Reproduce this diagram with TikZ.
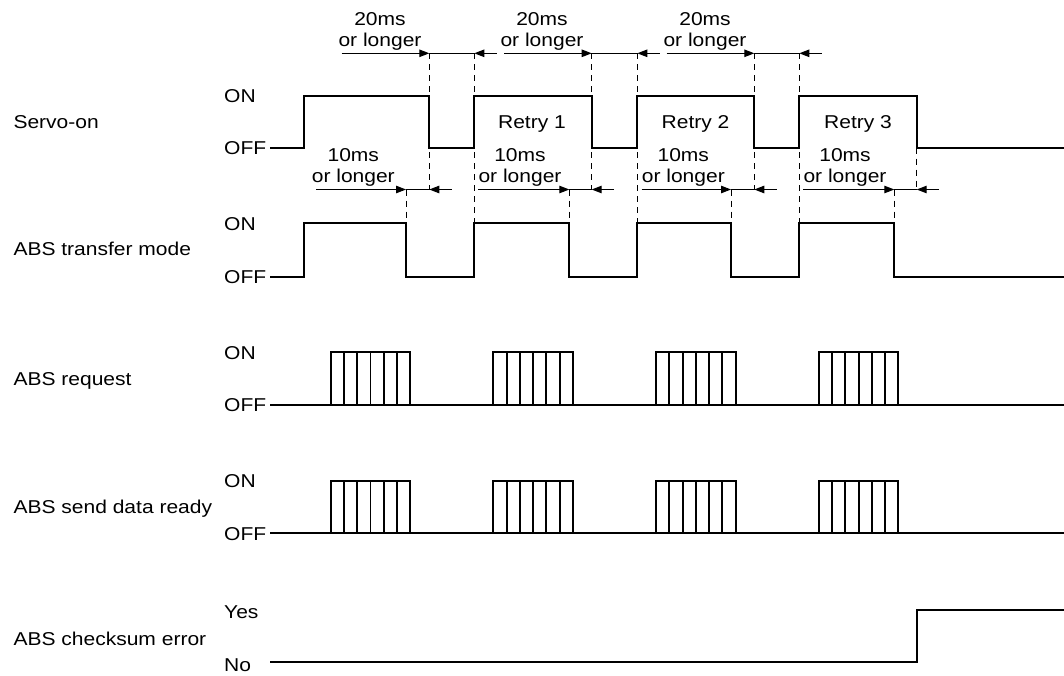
\documentclass[tikz,border=0pt]{standalone}
\usepackage{fontspec}
\setmainfont{Liberation Sans}[FakeStretch=1.13]
\usetikzlibrary{arrows.meta}
\tikzset{
  sig/.style={line width=1.9pt, line join=miter},
  pulse/.style={line width=1.9pt},
  dim/.style={line width=1pt},
  tipr/.style={-{Triangle[length=10pt,width=7.5pt]}},
  guide/.style={line width=1pt, dash pattern=on 6pt off 5pt},
  lbl/.style={font=\fontsize{18.6}{21}\selectfont, inner sep=0pt, anchor=base west},
  tlbl/.style={font=\fontsize{18.6}{21}\selectfont, inner sep=0pt, anchor=base},
}
\begin{document}
\begin{tikzpicture}[x=1pt,y=-1pt]
\useasboundingbox (0,0) rectangle (1064,675);

% signal names
\node[lbl] (servo) at (13.3,128.3) {Servo-on};
\node[lbl] (servoon) at (224,102.3) {ON};
\node[lbl] (servooff) at (224,154.3) {OFF};
\node[lbl] (trans) at (13.3,255) {ABS transfer mode};
\node[lbl] (transon) at (224,230) {ON};
\node[lbl] (transoff) at (224,283.3) {OFF};
\node[lbl] (req) at (13.3,385) {ABS request};
\node[lbl] (reqon) at (224,359) {ON};
\node[lbl] (reqoff) at (224,411.7) {OFF};
\node[lbl] (send) at (13.3,513.3) {ABS send data ready};
\node[lbl] (sendon) at (224,487.3) {ON};
\node[lbl] (sendoff) at (224,540) {OFF};
\node[lbl] (chk) at (13.3,645) {ABS checksum error};
\node[lbl] (chkyes) at (224,618.3) {Yes};
\node[lbl] (chkno) at (224,671.7) {No};

% dashed guides
\foreach \x in {429.3,591.7,754.3} \draw[guide] (\x,53.3) -- (\x,189.5);
\draw[guide] (916.7,147.7) -- (916.7,189.5);
\foreach \x in {474.3,637.3,799.3} \draw[guide] (\x,53.3) -- (\x,223.3);
\foreach \x in {406,569.3,731,894.3} \draw[guide] (\x,189.5) -- (\x,223.3);

% 20ms dimensions
\foreach \a/\f/\r/\c [count=\i] in {341.7/429.3/474.3/380, 504/591.7/637.3/542, 666.7/754.3/799.3/705}{
  \draw[dim,tipr] (\a,53.3) -- (\f,53.3);
  \draw[dim] (\f,53.3) -- (\r,53.3);
  \draw[dim,tipr] ({\r+22.5},53.3) -- (\r,53.3);
  \node[tlbl] (twa\i) at (\c,25.7) {20ms};
  \node[tlbl] (twb\i) at (\c,46.7) {or longer};
}

% 10ms dimensions
\foreach \b/\f/\s/\c [count=\i] in {316/406/429.3/353.3, 478/569.3/591.7/520, 641.7/731/754.3/683.3, 803.3/894.3/916.7/845}{
  \draw[dim,tipr] (\b,189.5) -- (\f,189.5);
  \draw[dim] (\f,189.5) -- (\s,189.5);
  \draw[dim,tipr] ({\s+22.5},189.5) -- (\s,189.5);
  \node[tlbl] (tna\i) at (\c,161.7) {10ms};
  \node[tlbl] (tnb\i) at (\c,182.7) {or longer};
}

% retry labels
\node[tlbl] (retry1) at (532,128.3) {Retry 1};
\node[tlbl] (retry2) at (695.5,128.3) {Retry 2};
\node[tlbl] (retry3) at (858,128.3) {Retry 3};

% Servo-on
\draw[sig] (270,147.7) -| (304.3,95.7) -| (429.3,147.7) -| (474.3,95.7) -| (591.7,147.7)
  -| (637.3,95.7) -| (754.3,147.7) -| (799.3,95.7) -| (916.7,147.7) -- (1064,147.7);

% ABS transfer mode
\draw[sig] (270,276.7) -| (304,223.3) -| (406,276.7) -| (474.3,223.3) -| (569.3,276.7)
  -| (637.3,223.3) -| (731,276.7) -| (799.3,223.3) -| (894.3,276.7) -- (1064,276.7);

% ABS request
\draw[sig] (270,405) -- (1064,405);
\foreach \x in {330.7,493.3,656,818.7}{
  \draw[pulse] (\x,352.3) rectangle ++(79.7,52.7);
  \foreach \k in {1,...,5} \draw[pulse] ({\x+\k*13.28},352.3) -- ++(0,52.7);
}

% ABS send data ready
\draw[sig] (270,533.3) -- (1064,533.3);
\foreach \x in {330.7,493.3,656,818.7}{
  \draw[pulse] (\x,480.7) rectangle ++(79.7,52.6);
  \foreach \k in {1,...,5} \draw[pulse] ({\x+\k*13.28},480.7) -- ++(0,52.6);
}

% ABS checksum error
\draw[sig] (270,661.7) -| (916.7,609.7) -- (1064,609.7);
\end{tikzpicture}
\end{document}
